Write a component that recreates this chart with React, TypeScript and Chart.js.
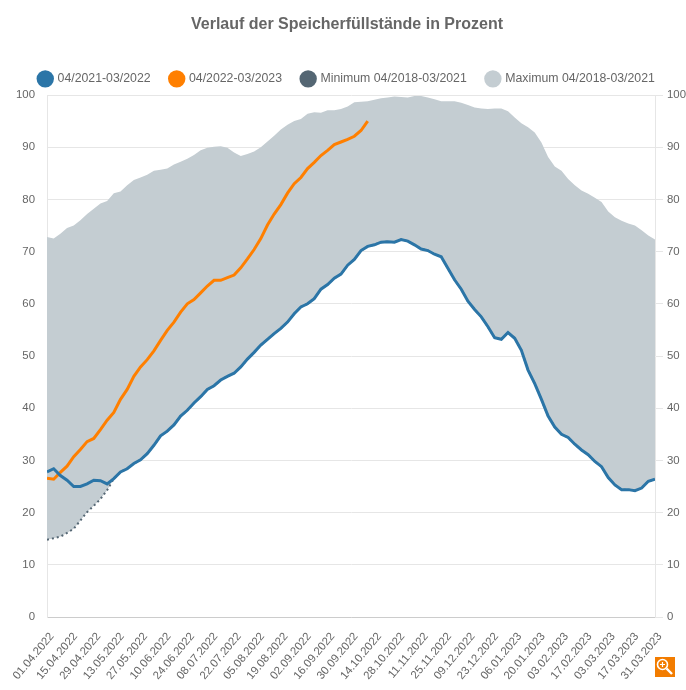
import React, { useEffect, useRef } from "react";
import { Chart, registerables } from "chart.js";

Chart.register(...registerables);

const titleText = "Verlauf der Speicherfüllstände in Prozent";
const seriesNames = ["04/2021-03/2022", "04/2022-03/2023", "Minimum 04/2018-03/2021", "Maximum 04/2018-03/2021"];
const xTickLabels = [
  "01.04.2022", "15.04.2022", "29.04.2022", "13.05.2022", "27.05.2022", "10.06.2022", "24.06.2022",
  "08.07.2022", "22.07.2022", "05.08.2022", "19.08.2022", "02.09.2022", "16.09.2022", "30.09.2022",
  "14.10.2022", "28.10.2022", "11.11.2022", "25.11.2022", "09.12.2022", "23.12.2022", "06.01.2023",
  "20.01.2023", "03.02.2023", "17.02.2023", "03.03.2023", "17.03.2023", "31.03.2023",
];
// every series at one point per four days
const sampleStepDays = 4;
const tickStepDays = 14;
const lastDay = 364;

const current2122 = [
  27.8, 28.4, 27.1, 26.2, 25.0, 25.0, 25.5, 26.2, 26.1, 25.5, 26.5, 27.8, 28.4, 29.4, 30.1, 31.3,
  32.9, 34.7, 35.6, 36.8, 38.5, 39.6, 41.0, 42.2, 43.6, 44.3, 45.4, 46.1, 46.7, 47.9, 49.4, 50.7,
  52.1, 53.2, 54.3, 55.3, 56.5, 58.1, 59.4, 60.0, 61.0, 62.8, 63.7, 64.9, 65.7, 67.4, 68.5, 70.2,
  71.0, 71.3, 71.8, 71.9, 71.8, 72.3, 72.0, 71.3, 70.5, 70.2, 69.5, 69.0, 66.8, 64.6, 62.8, 60.5,
  58.9, 57.5, 55.6, 53.5, 53.2, 54.5, 53.4, 51.1, 47.3, 44.7, 41.7, 38.5, 36.4, 35.0, 34.4, 33.1,
  32.0, 31.1, 29.8, 28.8, 26.7, 25.3, 24.4, 24.4, 24.2, 24.7, 26.0, 26.4,
];
const current2223 = [
  26.6, 26.4, 27.7, 28.9, 30.7, 32.1, 33.6, 34.2, 35.9, 37.7, 39.2, 41.7, 43.6, 46.1, 47.9, 49.3,
  51.0, 53.0, 54.9, 56.5, 58.4, 60.0, 60.8, 62.1, 63.4, 64.5, 64.5, 65.0, 65.5, 66.9, 68.6, 70.4,
  72.5, 75.1, 77.2, 79.0, 81.2, 83.0, 84.2, 85.9, 87.1, 88.4, 89.4, 90.5, 91.0, 91.5, 92.1, 93.2, 95.0,
];
const minimumStart = [14.8, 15.1, 15.4, 16.1, 16.9, 18.5, 20.1, 21.3, 22.6, 24.3];
const maximum = [
  72.8, 72.5, 73.4, 74.5, 75.0, 76.0, 77.2, 78.2, 79.2, 79.7, 81.2, 81.5, 82.7, 83.7, 84.2, 84.7,
  85.5, 85.7, 85.9, 86.7, 87.2, 87.8, 88.5, 89.4, 89.9, 90.1, 90.2, 89.9, 89.0, 88.3, 88.7, 89.2,
  90.0, 91.1, 92.2, 93.4, 94.3, 95.0, 95.4, 96.4, 96.7, 96.6, 97.1, 97.1, 97.3, 97.8, 98.6, 98.7,
  98.8, 99.1, 99.4, 99.5, 99.7, 99.6, 99.5, 99.8, 99.8, 99.5, 99.2, 98.8, 98.8, 98.8, 98.5, 98.1,
  97.6, 97.4, 97.3, 97.4, 97.4, 96.9, 95.7, 94.6, 93.8, 92.8, 90.9, 88.1, 86.3, 85.5, 83.9, 82.7,
  81.7, 81.1, 80.3, 79.5, 77.7, 76.6, 75.9, 75.4, 75.0, 74.1, 73.1, 72.3,
];
// from mid-May on the multi-year minimum lies under the 2021/22 line
const minimum = [...minimumStart, ...current2122.slice(minimumStart.length)];

const toPoints = (values: number[]) => values.map((y, i) => ({ x: i * sampleStepDays, y }));

const FONT = "'Liberation Sans', Helvetica, Arial, sans-serif";
const TEXT = "#666666";
const GRID = "#e6e6e6";

export default function App() {
  const ref = useRef<HTMLCanvasElement>(null);
  useEffect(() => {
    const chart = new Chart(ref.current!, {
      type: "line",
      data: {
        datasets: [
          { label: seriesNames[0], data: toPoints(current2122), borderColor: "#2b75a7", backgroundColor: "#2b75a7", borderWidth: 3, pointRadius: 0, fill: false },
          { label: seriesNames[1], data: toPoints(current2223), borderColor: "#ff7f00", backgroundColor: "#ff7f00", borderWidth: 3, pointRadius: 0, fill: false },
          { label: seriesNames[2], data: toPoints(minimum), borderColor: "#546673", backgroundColor: "#546673", borderWidth: 2, borderDash: [2, 3], pointRadius: 0, fill: false },
          { label: seriesNames[3], data: toPoints(maximum), borderColor: "#c4cdd2", backgroundColor: "#c4cdd2", borderWidth: 0, pointRadius: 0, fill: "-1" },
        ],
      },
      options: {
        responsive: false,
        animation: false,
        events: [],
        layout: { padding: { left: 8 } },
        font: { family: FONT },
        plugins: {
          tooltip: { enabled: false },
          title: {
            display: true,
            text: titleText,
            color: TEXT,
            font: { family: FONT, size: 16, weight: "bold" },
            padding: { top: 14.5, bottom: 19 },
          },
          legend: {
            display: true,
            position: "top",
            align: "center",
            labels: {
              usePointStyle: true,
              color: TEXT,
              padding: 20,
              font: { family: FONT, size: 12.3 },
              generateLabels: (c: Chart) =>
                Chart.defaults.plugins.legend.labels.generateLabels(c).map((l: any) => ({
                  ...l,
                  lineWidth: 0,
                  lineDash: [],
                  pointStyle: "circle",
                })),
            },
          },
        },
        scales: {
          x: {
            type: "linear",
            min: 0,
            max: lastDay,
            grid: { display: false },
            border: { color: "#cccccc" },
            afterFit: (s: any) => { s.height = 73; },
            afterBuildTicks: (s: any) => {
              s.ticks = xTickLabels.map((_, i) => ({ value: i * tickStepDays }));
            },
            ticks: {
              autoSkip: false,
              minRotation: 50,
              maxRotation: 50,
              color: TEXT,
              font: { family: FONT, size: 11.4 },
              padding: 5,
              labelOffset: 5,
              callback: (v: any) => xTickLabels[Math.round(Number(v) / tickStepDays)],
            },
          },
          y: {
            position: "left",
            min: 0,
            max: 100,
            afterFit: (s: any) => { s.width = 39; },
            grid: { color: GRID, drawTicks: false },
            border: { color: GRID },
            ticks: { stepSize: 10, color: TEXT, font: { family: FONT, size: 11.4 }, padding: 12 },
          },
          y2: {
            position: "right",
            min: 0,
            max: 100,
            afterFit: (s: any) => { s.width = 31; },
            grid: { drawOnChartArea: false, color: GRID, tickLength: 8 },
            border: { color: GRID },
            ticks: { stepSize: 10, color: TEXT, font: { family: FONT, size: 11.4 }, padding: 4 },
          },
        },
      } as any,
    });
    return () => chart.destroy();
  }, []);

  return (
    <div style={{ position: "absolute", left: 0, top: 0, width: 686, height: 690 }}>
      <canvas ref={ref} width={686} height={690} style={{ display: "block" }} />
      <svg width={20} height={20} viewBox="0 0 20 20" style={{ position: "absolute", left: 655, top: 657 }}>
        <rect width={20} height={20} fill="#f27c00" />
        <circle cx={7.5} cy={7.5} r={5} fill="none" stroke="#ffffff" strokeWidth={1.6} />
        <path d="M5 7.5h5M7.5 5v5" stroke="#ffffff" strokeWidth={1.2} />
        <path d="M11.5 11.5L17 17" stroke="#ffffff" strokeWidth={2.4} />
      </svg>
    </div>
  );
}
